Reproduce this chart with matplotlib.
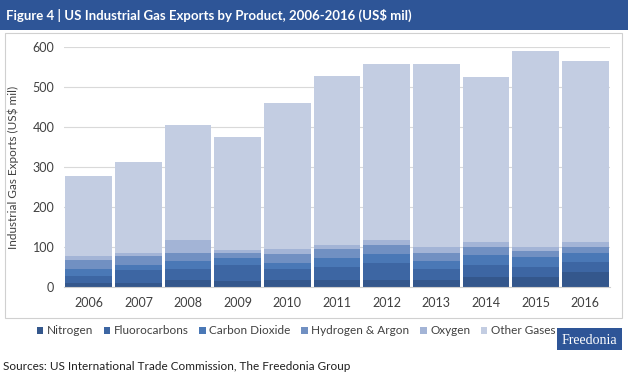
import matplotlib
matplotlib.use("Agg")
import matplotlib.pyplot as plt
from matplotlib.patches import Rectangle
import numpy as np

plt.rcParams['font.family'] = ['Lato', 'DejaVu Sans']

years = ['2006', '2007', '2008', '2009', '2010', '2011', '2012', '2013', '2014', '2015', '2016']
nitrogen = [10, 9, 17, 15, 17, 17, 17, 17, 26, 26, 38]
fluorocarbons = [17, 34, 27, 40, 27, 34, 42, 27, 29, 25, 24]
carbon_dioxide = [18, 12, 22, 18, 17, 21, 24, 22, 25, 23, 22]
hydrogen_argon = [22, 22, 20, 12, 22, 22, 22, 20, 21, 17, 17]
oxygen = [10, 9, 31, 7, 11, 11, 12, 13, 11, 8, 12]
totals = [278, 312, 405, 375, 460, 527, 557, 557, 525, 590, 565]

parts = [nitrogen, fluorocarbons, carbon_dioxide, hydrogen_argon, oxygen]
other = [t - sum(p[i] for p in parts) for i, t in enumerate(totals)]
series = parts + [other]
names = ['Nitrogen', 'Fluorocarbons', 'Carbon Dioxide', 'Hydrogen & Argon', 'Oxygen', 'Other Gases']
colors = ['#34578c', '#3d66a3', '#4a78b6', '#7190c2', '#a3b4d6', '#c3cde2']

fig = plt.figure(figsize=(6.28, 3.85), dpi=100)

# title bar
fig.patches.append(Rectangle((0, 1 - 30/385), 1, 30/385, transform=fig.transFigure,
                             facecolor='#2e5597', edgecolor='none', zorder=0))
fig.text(6/628, 1 - 15/385, 'Figure 4 | US Industrial Gas Exports by Product, 2006-2016 (US$ mil)',
         color='white', fontsize=9.5, fontweight='bold', va='center', ha='left')

# frame around chart
fig.patches.append(Rectangle((5/628, 1 - 318/385), 617/628, 285/385, transform=fig.transFigure,
                             facecolor='none', edgecolor='#d0d0d0', linewidth=0.8))

ax = fig.add_axes([64/628, 1 - 287/385, 546/628, 240/385])
x = np.arange(len(years))
bottom = np.zeros(len(years))
for vals, name, c in zip(series, names, colors):
    ax.bar(x, vals, bottom=bottom, width=0.94, color=c, label=name, zorder=2)
    bottom += np.array(vals)

ax.set_xlim(-0.5, len(years) - 0.5)
ax.set_ylim(0, 600)
ax.set_yticks(range(0, 601, 100))
ax.set_xticks(x)
ax.set_xticklabels(years)
ax.tick_params(axis='both', length=0, labelsize=9, colors='#404040', pad=7)
ax.yaxis.grid(True, color='#d9d9d9', linewidth=0.8, zorder=0)
for s in ['top', 'right', 'left']:
    ax.spines[s].set_visible(False)
ax.spines['bottom'].set_color('#d0d0d0')
ax.set_ylabel('Industrial Gas Exports (US$ mil)', fontsize=8.5, color='#404040', labelpad=10)

handles, labels = ax.get_legend_handles_labels()
fig.legend(handles, labels, loc='center', bbox_to_anchor=(296/628, 1 - 331/385), ncol=6,
           frameon=False, fontsize=8.5, handlelength=0.55, handleheight=0.55,
           handletextpad=0.3, columnspacing=0.9, labelcolor='#404040')

# logo
fig.patches.append(Rectangle((557/628, 1 - 350/385), 65/628, 22/385, transform=fig.transFigure,
                             facecolor='#2e5597', edgecolor='none'))
fig.text(589/628, 1 - 340/385, 'Freedonia', family='Liberation Serif', color='white',
         fontsize=10, ha='center', va='center')

fig.text(3/628, 1 - 367/385, 'Sources: US International Trade Commission, The Freedonia Group',
         fontsize=8.5, color='#202020', ha='left', va='center')

fig.savefig('out.png', dpi=100)
